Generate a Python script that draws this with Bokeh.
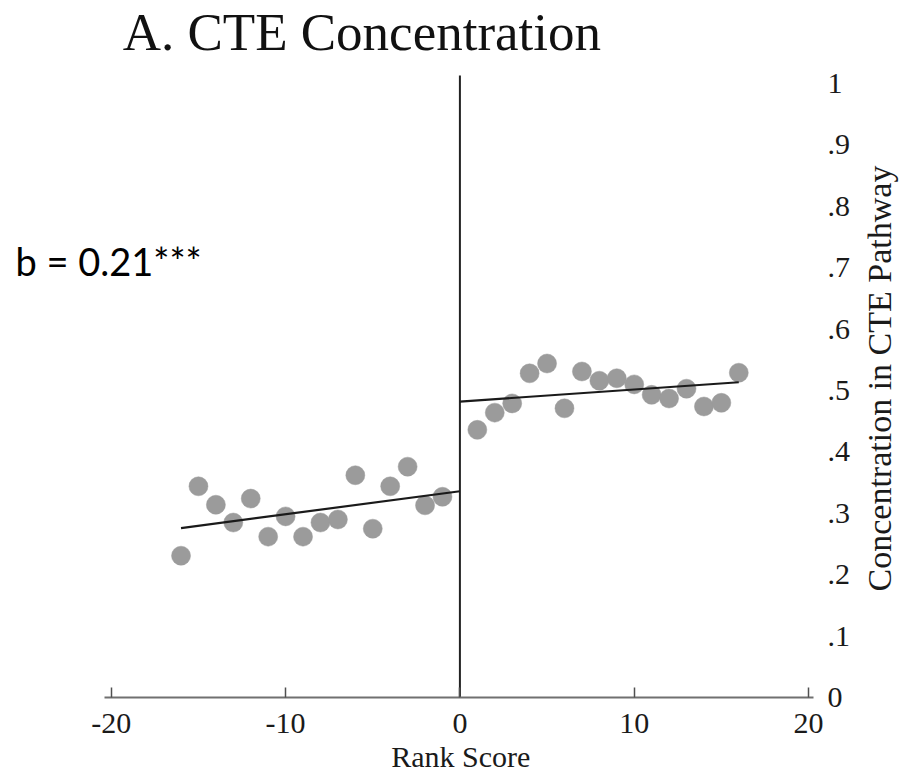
import math
from bokeh.plotting import figure
from bokeh.models import Range1d, LinearAxis, FixedTicker, Label, ColumnDataSource
from bokeh.embed import file_html
from bokeh.resources import INLINE

# ---- data ----
rank_left = [-16, -15, -14, -13, -12, -11, -10, -9, -8, -7, -6, -5, -4, -3, -2, -1]
conc_left = [0.231, 0.344, 0.314, 0.285, 0.324, 0.262, 0.295, 0.262, 0.285, 0.290,
             0.362, 0.275, 0.344, 0.376, 0.313, 0.327]
rank_right = [1, 2, 3, 4, 5, 6, 7, 8, 9, 10, 11, 12, 13, 14, 15, 16]
conc_right = [0.436, 0.464, 0.479, 0.528, 0.544, 0.471, 0.531, 0.516, 0.520, 0.510,
              0.493, 0.487, 0.503, 0.474, 0.480, 0.529]
fit_left_x = [-16, 0]
fit_left_y = [0.276, 0.336]
fit_right_x = [0, 16]
fit_right_y = [0.482, 0.5135]
cutoff = 0
x_ticks = [-20, -10, 0, 10, 20]
x_tick_labels = ["-20", "-10", "0", "10", "20"]
y_ticks = [0, 0.1, 0.2, 0.3, 0.4, 0.5, 0.6, 0.7, 0.8, 0.9, 1.0]
y_tick_labels = ["0", ".1", ".2", ".3", ".4", ".5", ".6", ".7", ".8", ".9", "1"]
title_text = "A. CTE Concentration"
x_title = "Rank Score"
y_title = "Concentration in CTE Pathway"
note_text = "b = 0.21***"

# ---- layout (data coordinates of the plot region and of the texts) ----
x_view = (-26.357, 25.22)        # whole canvas width
y_view = (-0.1221, 1.1352)       # whole canvas height
region_x = (-20.38, 20.29)       # plot region (x axis line extent)
region_y_top = 1.013             # top of the plot region
title_pos = (-19.35, 1.0832)
note_pos = (-25.5, 0.7117)
x_title_pos = (0.05, -0.0961)
y_title_pos = (24.10, 0.5195)

SERIF = "Liberation Serif"
TXT = "#1a1a1a"

p = figure(width=899, height=772, output_backend="svg", toolbar_location=None,
           x_range=Range1d(*x_view), y_range=Range1d(*y_view),
           x_axis_location=None, y_axis_location=None,
           min_border_left=0, min_border_right=0, min_border_top=0, min_border_bottom=0)
p.outline_line_color = None
p.grid.visible = False
p.background_fill_color = "white"
p.border_fill_color = "white"

# bottom axis, fixed on y = 0
xa = LinearAxis(ticker=FixedTicker(ticks=x_ticks), fixed_location=0, bounds=region_x)
xa.major_label_overrides = {t: l for t, l in zip(x_ticks, x_tick_labels)}
xa.axis_line_color = "#707070"
xa.axis_line_width = 2
xa.major_tick_in = 10
xa.major_tick_out = 0
xa.major_tick_line_color = "#505050"
xa.major_tick_line_width = 1.5
xa.minor_tick_line_color = None
xa.major_label_text_font = SERIF
xa.major_label_text_font_size = "30px"
xa.major_label_text_color = TXT
xa.major_label_standoff = 16
p.add_layout(xa, "below")

# right axis, fixed on the right edge of the plot region
ya = LinearAxis(ticker=FixedTicker(ticks=y_ticks), fixed_location=region_x[1])
ya.major_label_overrides = {t: l for t, l in zip(y_ticks, y_tick_labels)}
ya.axis_line_color = None
ya.major_tick_line_color = None
ya.minor_tick_line_color = None
ya.major_tick_in = 0
ya.major_tick_out = 0
ya.major_label_standoff = 14
ya.major_label_text_font = SERIF
ya.major_label_text_font_size = "30px"
ya.major_label_text_color = TXT
p.add_layout(ya, "right")

# cutoff line
p.segment(x0=[cutoff], y0=[0], x1=[cutoff], y1=[region_y_top],
          line_color="#222222", line_width=2)

# points
src_l = ColumnDataSource(dict(x=rank_left, y=conc_left))
src_r = ColumnDataSource(dict(x=rank_right, y=conc_right))
for s in (src_l, src_r):
    p.scatter("x", "y", source=s, marker="circle", size=19,
              fill_color="#9b9b9b", line_color="#9b9b9b", line_width=0.5)

# fitted lines
p.line(fit_left_x, fit_left_y, line_color="#1a1a1a", line_width=2.2)
p.line(fit_right_x, fit_right_y, line_color="#1a1a1a", line_width=2.2)

# texts
p.add_layout(Label(x=title_pos[0], y=title_pos[1], text=title_text, text_font=SERIF,
                   text_font_size="53px", text_color="#111111",
                   text_align="left", text_baseline="alphabetic"))
p.add_layout(Label(x=x_title_pos[0], y=x_title_pos[1], text=x_title, text_font=SERIF,
                   text_font_size="30px", text_color=TXT,
                   text_align="center", text_baseline="alphabetic"))
p.add_layout(Label(x=y_title_pos[0], y=y_title_pos[1], text=y_title, text_font=SERIF,
                   text_font_size="34px", text_color=TXT, angle=math.pi / 2,
                   text_align="center", text_baseline="alphabetic"))
p.add_layout(Label(x=note_pos[0], y=note_pos[1], text=note_text, text_font="Lato",
                   text_font_size="38px", text_color="#000000",
                   text_align="left", text_baseline="alphabetic"))

open("out.html", "w").write(file_html(p, INLINE))
